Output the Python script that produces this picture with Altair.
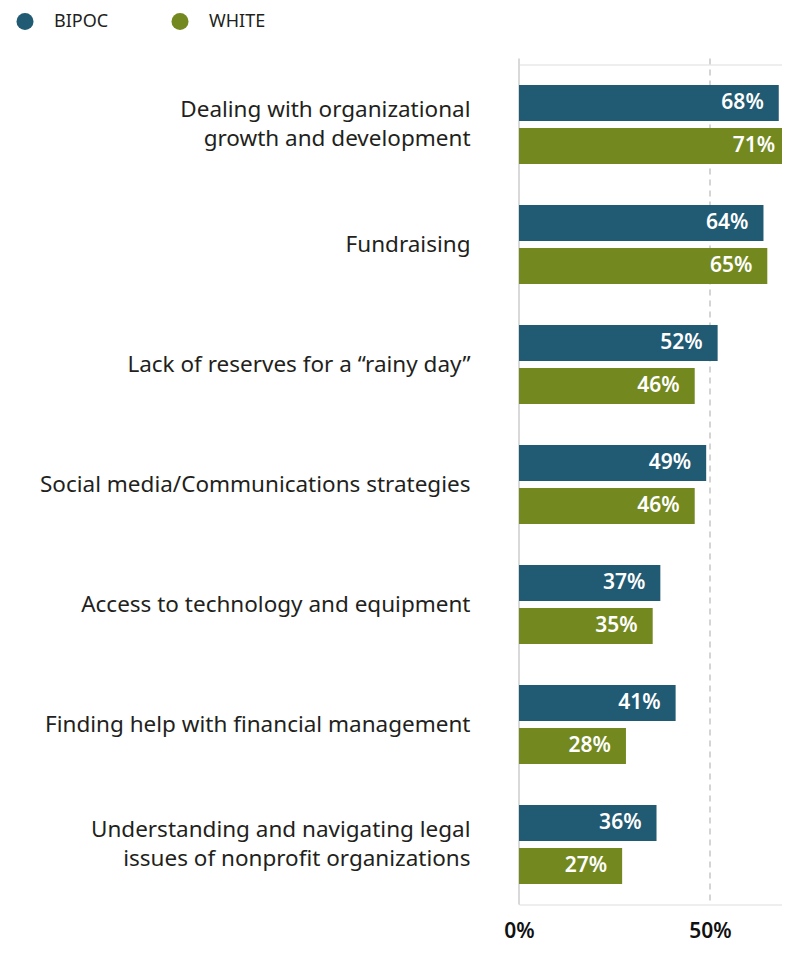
import altair as alt
import pandas as pd

categories = [
    "Dealing with organizational|growth and development",
    "Fundraising",
    "Lack of reserves for a \u201crainy day\u201d",
    "Social media/Communications strategies",
    "Access to technology and equipment",
    "Finding help with financial management",
    "Understanding and navigating legal|issues of nonprofit organizations",
]
series = ["BIPOC", "WHITE"]
bipoc = [68, 64, 52, 49, 37, 41, 36]
white = [71, 65, 46, 46, 35, 28, 27]
colors = ["#215a73", "#738920"]
grid_values = [0, 50]
x_ticks = [0, 50]

rows = []
for c, b, w in zip(categories, bipoc, white):
    rows.append({"category": c, "group": "BIPOC", "value": b})
    rows.append({"category": c, "group": "WHITE", "value": w})
df = pd.DataFrame(rows)
df["label"] = df["value"].astype(str) + "%"

grid_df = pd.DataFrame({"v": grid_values})

FONT = "Noto Sans"
PLOT_W = 263
PX_PER_PCT = 191 / 50.0

x_scale = alt.Scale(domain=[0, PLOT_W / PX_PER_PCT], nice=False, zero=True)

y_enc = alt.Y(
    "category:N",
    sort=categories,
    scale=alt.Scale(paddingInner=0, paddingOuter=0),
    axis=alt.Axis(
        title=None,
        domain=False,
        ticks=False,
        labelExpr="split(datum.label, '|')",
        labelFontSize=22.5,
        labelFont=FONT,
        labelColor="#231f20",
        labelPadding=49,
        labelLineHeight=29,
        labelBaseline="middle",
        labelOffset={
            "condition": {"test": "indexof(datum.value, '|') >= 0", "value": -14.5},
            "value": 0,
        },
        labelLimit=600,
    ),
)
yoff = alt.YOffset(
    "group:N",
    sort=series,
    scale=alt.Scale(paddingInner=7 / 43, paddingOuter=20.5 / 43),
)

grid0 = alt.Chart(grid_df).transform_filter("datum.v == 0").mark_rule(
    color="#d9d9d9", strokeWidth=2
).encode(
    x=alt.X("v:Q", scale=x_scale),
    y=alt.value(-6),
    y2=alt.value(840),
)
grid50 = alt.Chart(grid_df).transform_filter("datum.v == 50").mark_rule(
    color="#d4d4d4", strokeWidth=2, strokeDash=[6, 5]
).encode(
    x=alt.X("v:Q", scale=x_scale),
    y=alt.value(-6),
    y2=alt.value(840),
)

bars = alt.Chart(df).mark_bar().encode(
    x=alt.X(
        "value:Q",
        scale=x_scale,
        axis=alt.Axis(
            title=None,
            values=x_ticks,
            grid=False,
            domain=False,
            ticks=False,
            labelExpr="datum.value + '%'",
            labelFontSize=21,
            labelFont=FONT,
            labelFontWeight=600,
            labelColor="#111111",
            labelPadding=16,
            labelFlush=False,
            labelBound=False,
        ),
    ),
    y=y_enc,
    yOffset=yoff,
    color=alt.Color(
        "group:N",
        sort=series,
        scale=alt.Scale(domain=series, range=colors),
        legend=alt.Legend(
            title=None,
            orient="none",
            legendX=-503,
            legendY=-52,
            direction="horizontal",
            symbolType="circle",
            symbolSize=290,
            symbolStrokeWidth=0,
            symbolOpacity=1,
            labelFontSize=18,
            labelFont=FONT,
            labelColor="#231f20",
            labelOffset=20,
            columnPadding=62,
        ),
    ),
)

texts = alt.Chart(df).mark_text(
    align="right", baseline="middle", dx=-15, color="white",
    fontSize=21, font=FONT, fontWeight=600,
).encode(
    x=alt.X("value:Q", scale=x_scale),
    y=alt.Y("category:N", sort=categories),
    yOffset=alt.YOffset("group:N", sort=series),
    text="label:N",
)

chart = alt.layer(grid0, grid50, bars, texts).properties(
    width=PLOT_W,
    height=840,
    autosize=alt.AutoSizeParams(type="none"),
    padding={"left": 511, "top": 56.5, "right": 0, "bottom": 40},
).configure_view(stroke=None).configure(background="white")

chart.save("out.html", embed_options={"renderer": "svg", "actions": False})
